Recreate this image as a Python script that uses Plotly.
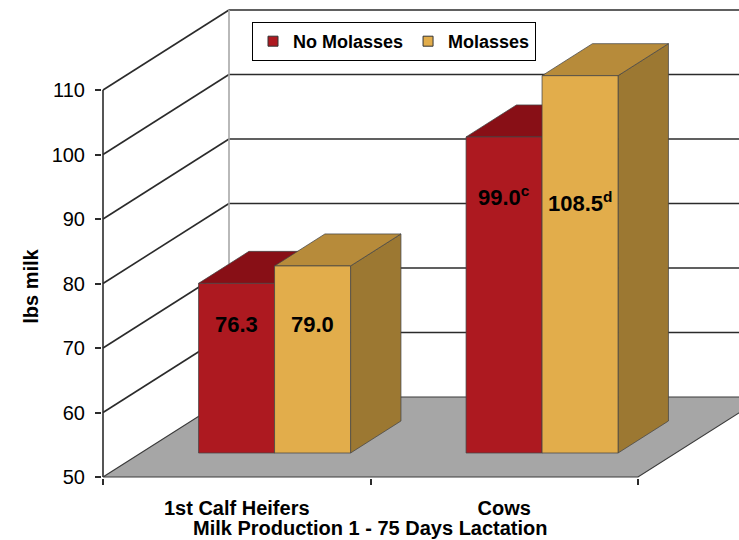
import plotly.graph_objects as go

# ---------------- data ----------------
categories = ["1st Calf Heifers", "Cows"]
series_names = ["No Molasses", "Molasses"]
no_molasses = [76.3, 99.0]
molasses = [79.0, 108.5]
label_suffix_no = ["", "c"]
label_suffix_mol = ["", "d"]
y_ticks = [50, 60, 70, 80, 90, 100, 110]
x_title = "Milk Production 1 - 75 Days Lactation"
y_title = "lbs milk"

# ---------------- style / geometry ----------------
W, H = 739, 540
ML, MR, MT, MB = 102, 0, 8, 62
PW, PH = W - ML - MR, H - MT - MB
S = 6.45                      # px per y unit
Y0 = y_ticks[0]
YMAX = y_ticks[-1]
YLO = Y0 - 1 / S
YHI = YLO + PH / S
CAT_LEN = 535                 # px length of the category axis
DX = 126                      # depth offset (px, x)
DYU = 80 / S                  # depth offset (y units)
F0, F1 = 0.3, 0.7             # bar depth span
BW = 76                       # bar width px

FONT = "Liberation Sans, Arial, sans-serif"
RED_F, RED_T, RED_S = "#AD1920", "#880F16", "#6E0C10"
GLD_F, GLD_T, GLD_S = "#E2AD4B", "#B78B3A", "#9C7832"
EDGE = "rgba(70,70,70,0.75)"
GRID = "#2b2b2b"

def P(x, y, f):
    return x + f * DX, y + f * DYU

fig = go.Figure()

def poly(pts, fill, line_color, lw=1):
    xs = [p[0] for p in pts] + [pts[0][0]]
    ys = [p[1] for p in pts] + [pts[0][1]]
    fig.add_trace(go.Scatter(x=xs, y=ys, mode="lines", fill="toself",
                             fillcolor=fill, line=dict(color=line_color, width=lw),
                             hoverinfo="skip", showlegend=False))

def seg(p, q, color, lw=1.5):
    fig.add_trace(go.Scatter(x=[p[0], q[0]], y=[p[1], q[1]], mode="lines",
                             line=dict(color=color, width=lw),
                             hoverinfo="skip", showlegend=False))

# back wall
poly([P(0, Y0, 1), P(CAT_LEN, Y0, 1), P(CAT_LEN, YMAX, 1), P(0, YMAX, 1)],
     "white", "rgba(0,0,0,0)", 0)
for v in y_ticks[1:]:
    seg(P(0, v, 1), P(CAT_LEN, v, 1), GRID, 1.6)   # back wall grid
    seg(P(0, v, 0), P(0, v, 1), GRID, 1.6)         # side wall grid
seg(P(0, Y0, 1), P(0, YMAX, 1), "#a8a8a8", 1.6)   # back wall left edge
seg(P(0, Y0, 0), P(0, YMAX, 0), GRID, 1.6)         # value axis line

# floor
poly([P(0, Y0, 0), P(CAT_LEN, Y0, 0), P(CAT_LEN, Y0, 1), P(0, Y0, 1)],
     "#A6A6A6", "#3a3a3a", 1.2)

# bars
cat_w = CAT_LEN / len(categories)
label_pos = []
for i in range(len(categories)):
    cx = cat_w * (i + 0.5)
    for j, (vals, cf, ct, cs, suf) in enumerate([
            (no_molasses, RED_F, RED_T, RED_S, label_suffix_no),
            (molasses, GLD_F, GLD_T, GLD_S, label_suffix_mol)]):
        v = vals[i]
        x0 = cx - BW + j * BW
        x1 = x0 + BW
        poly([P(x1, Y0, F0), P(x1, Y0, F1), P(x1, v, F1), P(x1, v, F0)], cs, EDGE)
        poly([P(x0, v, F0), P(x1, v, F0), P(x1, v, F1), P(x0, v, F1)], ct, EDGE)
        poly([P(x0, Y0, F0), P(x1, Y0, F0), P(x1, v, F0), P(x0, v, F0)], cf, EDGE)
        txt = f"<b>{v:.1f}</b>" + (f"<b><sup>{suf[i]}</sup></b>" if suf[i] else "")
        label_pos.append(((x0 + x1) / 2 + F0 * DX, v, txt))

# data labels (placed inside the front faces, as in the source)
label_drop = [2.6, 5.4, 5.5, 15.8]
for k, (xc, v, txt) in enumerate(label_pos):
    fig.add_annotation(x=xc, y=v - label_drop[k], text=txt,
                       showarrow=False, font=dict(family=FONT, size=22, color="black"),
                       xanchor="center", yanchor="middle")

# legend proxies
for nm, c in zip(series_names, [RED_F, GLD_F]):
    fig.add_trace(go.Scatter(x=[None], y=[None], mode="markers", name=f"<b>{nm}</b>",
                             marker=dict(symbol="square", size=10, color=c,
                                         line=dict(color="#333", width=1))))

# axis titles
fig.add_annotation(x=CAT_LEN / 2, y=0, xref="x", yref="paper", yshift=-50,
                   xanchor="center", yanchor="middle",
                   text=f"<b>{x_title}</b>", showarrow=False,
                   font=dict(family=FONT, size=20, color="black"))
fig.add_annotation(x=0, y=79.5, xref="paper", yref="y", xshift=-71,
                   xanchor="center", yanchor="middle",
                   text=f"<b>{y_title}</b>", showarrow=False, textangle=-90,
                   font=dict(family=FONT, size=20, color="black"))

fig.update_layout(
    width=W, height=H,
    margin=dict(l=ML, r=MR, t=MT, b=MB, pad=0),
    paper_bgcolor="white", plot_bgcolor="white",
    font=dict(family=FONT, color="black"),
    showlegend=True,
    legend=dict(orientation="h", x=(252 - ML) / PW, y=(H - MB - 22) / PH,
                xanchor="left", yanchor="top", bgcolor="white",
                bordercolor="black", borderwidth=1,
                font=dict(family=FONT, size=18, color="black"),
                itemwidth=30, tracegroupgap=0),
    xaxis=dict(range=[-1, PW - 1], showgrid=False, zeroline=False, showline=False,
               automargin=False,
               tickmode="array", tickvals=[cat_w * (i + 0.5) for i in range(len(categories))],
               ticktext=[f"<b>{c}</b>" for c in categories], ticks="",
               tickfont=dict(family=FONT, size=20, color="black"),
               ticklabelstandoff=16,
               minor=dict(tickmode="linear", tick0=0, dtick=cat_w, ticks="outside",
                          ticklen=6, tickcolor=GRID, tickwidth=1.5, showgrid=False),
               fixedrange=True),
    yaxis=dict(range=[YLO, YHI], showgrid=False, zeroline=False, showline=False,
               automargin=False,
               tickmode="array", tickvals=y_ticks, ticks="outside", ticklen=6,
               tickcolor=GRID, tickwidth=1.5,
               tickfont=dict(family=FONT, size=20, color="black"),
               ticklabelstandoff=6, fixedrange=True),
)

fig.write_html("out.html", config={"displayModeBar": False},
               post_script="document.body.style.margin='0px';")
